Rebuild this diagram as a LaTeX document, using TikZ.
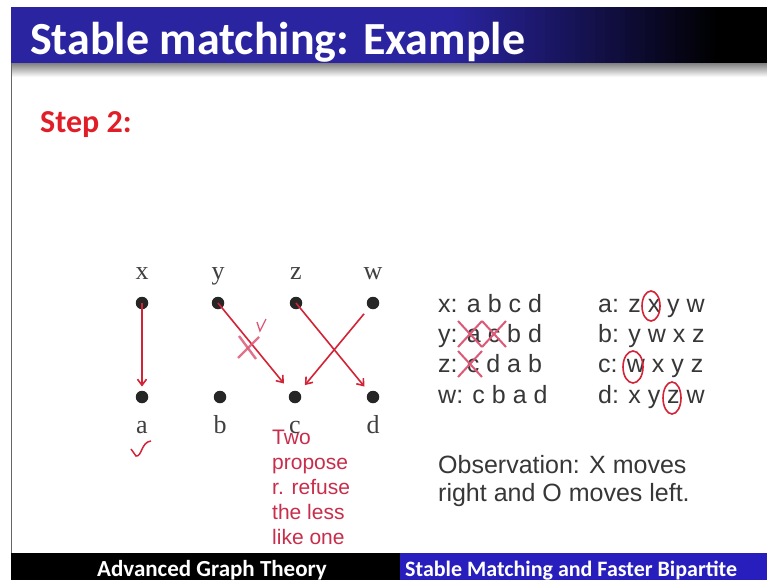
\documentclass[tikz,border=0pt]{standalone}
\usepackage{fontspec}
\setmainfont{Liberation Serif}
\newfontfamily\calfont{Carlito}
\newfontfamily\arialfont{Liberation Sans}
\usetikzlibrary{arrows.meta}
\definecolor{hdrblue}{RGB}{42,36,160}
\definecolor{footblue}{RGB}{40,30,190}
\definecolor{stepred}{RGB}{225,30,40}
\definecolor{arrred}{RGB}{210,35,55}
\definecolor{notered}{RGB}{200,45,75}
\definecolor{markpink}{RGB}{220,90,120}
\definecolor{txtgray}{RGB}{55,55,55}
\tikzset{
  dot/.style={circle,fill=black!85,inner sep=0pt,minimum size=12.5pt},
  lab/.style={anchor=base,inner sep=0pt,font=\fontsize{26}{26}\selectfont,text=black!75},
  arr/.style={draw=arrred,line width=1.6pt,-{Straight Barb[length=6pt,width=9pt]}},
  lst/.style={anchor=base west,inner sep=0pt,font=\arialfont\fontsize{25}{25}\selectfont,text=txtgray},
  note/.style={anchor=base west,inner sep=0pt,font=\arialfont\fontsize{21}{21}\selectfont,text=notered},
  xmark/.style={draw=markpink,line width=2.4pt,opacity=0.85},
  ring/.style={draw=arrred,line width=1.6pt},
  foot/.style={inner sep=0pt,font=\calfont\bfseries\fontsize{23}{23}\selectfont,text=white}
}
\begin{document}
\begin{tikzpicture}[x=1pt,y=-1pt]
\useasboundingbox (0,0) rectangle (767,580);
\fill[white] (0,0) rectangle (767,580);
% header
\fill[hdrblue] (11,7) rectangle (451,63);
\foreach \i in {0,...,53}{
  \pgfmathsetmacro{\p}{100-\i*100/53}
  \fill[hdrblue!\p!black] (450+\i*5,7) rectangle (456+\i*5,63);
}
\fill[black] (719,7) rectangle (767,63);
\foreach \i in {0,...,14}{
  \pgfmathsetmacro{\q}{50-\i*50/14}
  \fill[black!\q] (11,63+\i) rectangle (767,64.2+\i);
}
\draw[black!60,line width=1pt] (11,63) -- (11,553);
\node[anchor=base west,inner sep=0pt,font=\calfont\bfseries\fontsize{46}{46}\selectfont,text=white] (title) at (30,55) {Stable matching: Example};
\node[anchor=base west,inner sep=0pt,font=\calfont\bfseries\fontsize{32}{32}\selectfont,text=stepred] (step) at (40,133) {Step 2:};
% graph
\foreach \n/\x in {x/142,y/218,z/296,w/373}{
  \node[dot] (t\n) at (\x,303) {};
  \node[lab] (l\n) at (\x,279) {\n};
}
\foreach \n/\x in {a/142,b/220,c/295,d/373}{
  \node[dot] (b\n) at (\x,397) {};
  \node[lab] (l\n) at (\x,433) {\n};
}
\draw[arr,shorten >=4pt] (tx.center) -- (ba);
\draw[arr,shorten >=11pt] (ty.center) -- (bc);
\draw[arr,shorten >=7pt] (tz.center) -- (bd);
\draw[arr,shorten <=14pt,shorten >=9pt] (tw.center) -- (bc);
% marks on graph
\draw[xmark] (239,336) -- (256,359);
\draw[xmark] (259,337) -- (238,358);
\draw[markpink,line width=1.3pt] (257,322) -- (260,331) -- (266,319);
\draw[arrred,line width=1.5pt] (131,449) -- (136,456) .. controls (142,457) and (141,442) .. (151,441);
% note
\foreach \t/\yy in {Two/444,propose/469,r. refuse/494,the less/519,like one/544}{
  \node[note] at (272,\yy) {\t};
}
% preference lists
\node[lst] (px) at (438,312) {x: a b c d};
\node[lst] (py) at (438,342) {y: a c b d};
\node[lst] (pz) at (438,372) {z: c d a b};
\node[lst] (pw) at (438,403) {w: c b a d};
\node[lst] (pa) at (598,312) {a: z x y w};
\node[lst] (pb) at (598,342) {b: y w x z};
\node[lst] (pc) at (598,372) {c: w x y z};
\node[lst] (pd) at (598,403) {d: x y z w};
% crosses
\foreach \cx/\cy in {470/334,494/334,470/364}{
  \draw[markpink,line width=2pt] (\cx-12,\cy-13) -- (\cx+12,\cy+13);
  \draw[markpink,line width=2pt] (\cx+12,\cy-13) -- (\cx-12,\cy+13);
}
% circles
\draw[ring] (651,306) ellipse [x radius=9pt,y radius=15pt];
\draw[ring] (633,367) ellipse [x radius=10pt,y radius=16pt];
\draw[ring] (672,398) ellipse [x radius=9pt,y radius=16pt];
% observation
\node[lst] (obs1) at (438,473) {Observation: X moves};
\node[lst] (obs2) at (438,501) {right and O moves left.};
% footer
\fill[black] (11,553) rectangle (400,580);
\fill[footblue] (400,553) rectangle (767,580);
\node[foot,anchor=base] (f1) at (212,576) {Advanced Graph Theory};
\node[foot,anchor=base west,font=\calfont\bfseries\fontsize{22}{22}\selectfont] (f2) at (405,576) {Stable Matching and Faster Bipartite};
\end{tikzpicture}
\end{document}
